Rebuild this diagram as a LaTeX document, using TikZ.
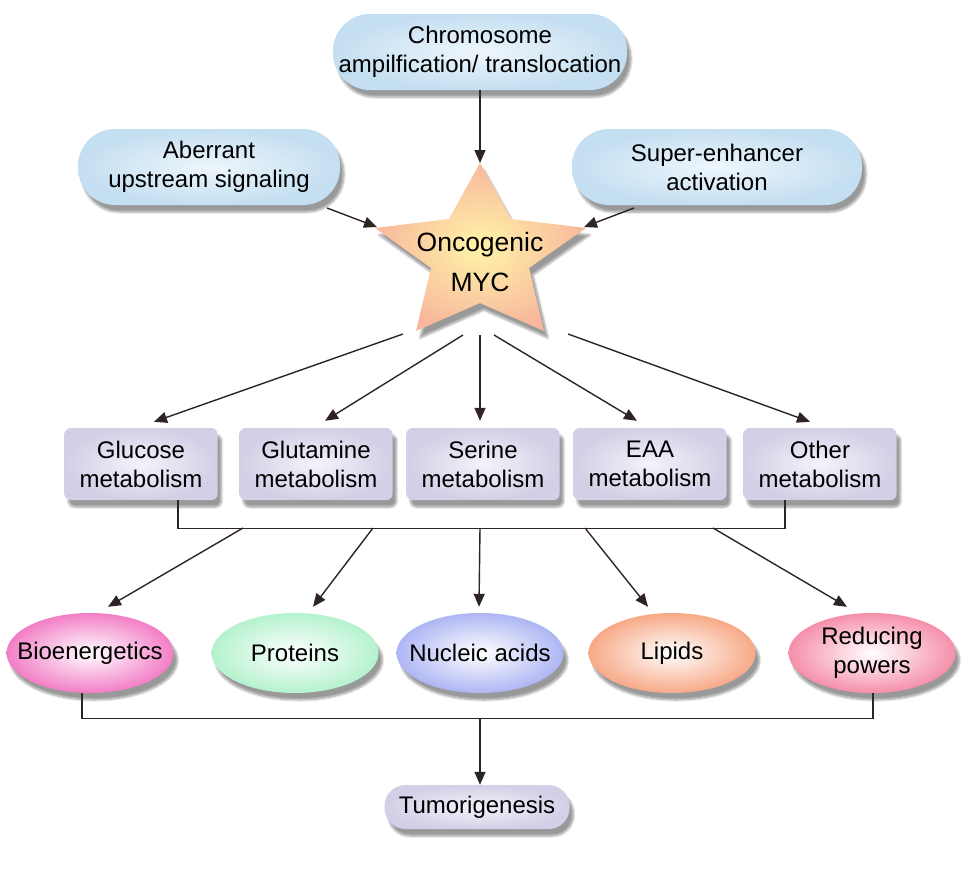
\documentclass[tikz,border=0pt]{standalone}
\usepackage{fontspec}
\setmainfont{Liberation Sans}
\usetikzlibrary{shapes.geometric,shadows,shadows.blur,arrows.meta}
\definecolor{bluein}{HTML}{EEF6FC}
\definecolor{blueout}{HTML}{C4DFF1}
\definecolor{lavin}{HTML}{F4F2FA}
\definecolor{lavout}{HTML}{D3CFE6}
\definecolor{linec}{HTML}{2E2424}
\definecolor{bioc}{HTML}{F27EC6}
\definecolor{proc}{HTML}{B5F2CE}
\definecolor{nucc}{HTML}{AEB6F3}
\definecolor{lipc}{HTML}{F7A987}
\definecolor{redc}{HTML}{F58FAA}
\definecolor{starin}{HTML}{FFF4A8}
\definecolor{starout}{HTML}{F8B89C}
\newcommand{\zc}[1]{\makebox[0pt]{#1}}
\begin{document}
\begin{tikzpicture}[x=1pt,y=-1pt,
  txt/.style={font=\fontsize{24}{29}\selectfont, align=center, inner sep=0pt, text=black},
  shd/.style={blur shadow={shadow xshift=4pt, shadow yshift=-7pt, shadow blur steps=8, shadow opacity=40}},
  pill/.style={txt, shd, rectangle, rounded corners=37pt, minimum height=76pt, inner color=bluein, outer color=blueout},
  mbox/.style={txt, shd, rectangle, rounded corners=6pt, minimum width=153pt, minimum height=72pt, inner color=lavin, outer color=lavout},
  oval/.style={txt, shd, ellipse, minimum width=167pt, minimum height=80pt, inner color=white},
  arr/.style={draw=linec, line width=1.4pt, -{Triangle[length=13pt,width=11pt]}},
  ln/.style={draw=linec, line width=1.4pt}]
\useasboundingbox (0,0) rectangle (980,878);

% top sources
\node[pill, minimum width=294pt] (chr) at (480,52) {Chromosome\\ampilfication/ translocation};
\node[pill, minimum width=262pt] (abe) at (209,167) {Aberrant\\upstream signaling};
\node[pill, minimum width=290pt] (sup) at (717,167) {Super-enhancer\\activation};

% star
\coordinate (st1) at (480,163);
\coordinate (st2) at (449,219);
\coordinate (st3) at (375,228);
\coordinate (st4) at (431,268);
\coordinate (st5) at (416,331);
\coordinate (st6) at (480,303);
\coordinate (st7) at (544,331);
\coordinate (st8) at (529,268);
\coordinate (st9) at (586,228);
\coordinate (st10) at (511,219);
\path[shd, inner color=starin, outer color=starout]
  (st1) -- (st2) -- (st3) -- (st4) -- (st5) -- (st6) -- (st7) -- (st8) -- (st9) -- (st10) -- cycle;
\node[txt, font=\fontsize{26.5}{40}\selectfont] (myc) at (480,262) {Oncogenic\\MYC};

\draw[arr] (chr) -- (st1);
\coordinate (a1) at (327,208);
\coordinate (a2) at (634,208);
\draw[arr] (a1) -- ([shift={(2,-1)}]st3);
\draw[arr] (a2) -- ([shift={(-2,-1)}]st9);

% metabolism boxes
\node[mbox] (glu) at (141,464) {Glucose\\metabolism};
\node[mbox] (glt) at (316,464) {Glutamine\\metabolism};
\node[mbox] (ser) at (483,464) {Serine\\metabolism};
\node[mbox] (eaa) at (650,464) {EAA\\metabolism};
\node[mbox] (oth) at (820,464) {Other\\metabolism};

\coordinate (s1) at (403,334);
\coordinate (s2) at (463,335);
\coordinate (s3) at (480,335);
\coordinate (s4) at (494,335);
\coordinate (s5) at (568,334);
\draw[arr] (s1) -- ([shift={(13,-6)}]glu.north);
\draw[arr] (s2) -- ([shift={(9,-7)}]glt.north);
\draw[arr] (s3) -- ([shift={(-3,-7)}]ser.north);
\draw[arr] (s4) -- ([shift={(-13,-7)}]eaa.north);
\draw[arr] (s5) -- ([shift={(-10,-6)}]oth.north);

% bracket 1
\draw[ln] ([xshift=37pt]glu.south) -- ++(0,28) -| ([xshift=-35pt]oth.south);
\coordinate (b1) at (243,528);
\coordinate (b2) at (373,528);
\coordinate (b3) at (480,528);
\coordinate (b4) at (585,528);
\coordinate (b5) at (713,528);

% products
\node[oval, outer color=bioc] (bio) at (90,653) {\zc{Bioenergetics}};
\node[oval, outer color=proc] (pro) at (295,653) {\zc{Proteins}};
\node[oval, outer color=nucc] (nuc) at (480,653) {\zc{Nucleic acids}};
\node[oval, outer color=lipc] (lip) at (672,653) {\zc{Lipids}};
\node[oval, outer color=redc] (red) at (872,653) {\zc{Reducing}\\\zc{powers}};

\draw[arr] (b1) -- ([shift={(18,-6)}]bio.north);
\draw[arr] (b2) -- ([shift={(18,-6)}]pro.north);
\draw[arr] (b3) -- ([shift={(-1,-6)}]nuc.north);
\draw[arr] (b4) -- ([shift={(-24,-6)}]lip.north);
\draw[arr] (b5) -- ([shift={(-25,-6)}]red.north);

% bracket 2
\draw[ln] ([xshift=-8pt]bio.south) -- ++(0,25) -| ([xshift=1pt]red.south);
\coordinate (c1) at (480,718);
\node[txt, shd, rectangle, rounded corners=21pt, minimum width=185pt, minimum height=44pt, inner color=lavin, outer color=lavout] (tum) at (477,807) {Tumorigenesis};
\draw[arr] (c1) -- ([xshift=3pt]tum.north);
\end{tikzpicture}
\end{document}
